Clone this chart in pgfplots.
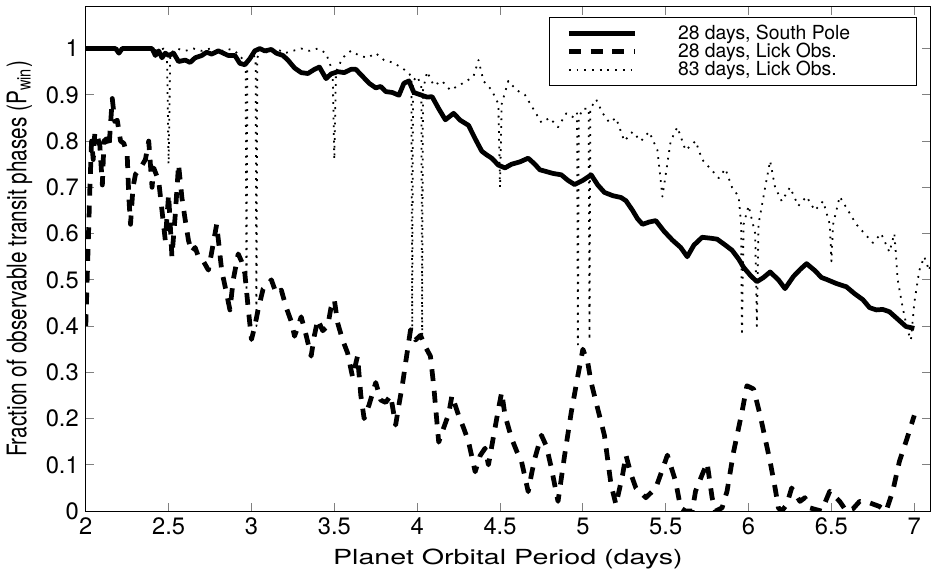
\documentclass[border=0pt]{standalone}
\usepackage{fontspec}
\setmainfont{TeX Gyre Heros}
\usepackage{graphicx}
\usepackage{pgfplots}
\pgfplotsset{compat=1.18}

\begin{document}
\begin{tikzpicture}
\begin{axis}[
    scale only axis,
    width=427pt, height=255pt,
    xmin=2, xmax=7.095, ymin=0, ymax=1.09,
    xtick={2,2.5,3,3.5,4,4.5,5,5.5,6,6.5,7},
    ytick={0,0.1,0.2,0.3,0.4,0.5,0.6,0.7,0.8,0.9,1},
    yticklabels={0,0.1,0.2,0.3,0.4,0.5,0.6,0.7,0.8,0.9,1},
    tick align=inside,
    major tick length=4pt,
    tick style={line width=0.5pt},
    axis line style={line width=0.5pt},
    /pgf/number format/assume math mode=true,
    tick label style={font=\fontsize{12}{12}\selectfont},
    label style={font=\fontsize{10.5}{12}\selectfont},
    xlabel={\scalebox{1.38}[1]{Planet Orbital Period (days)}},
    ylabel={\scalebox{1}[1.3]{Fraction of observable transit phases (P\textsubscript{win})}},
    legend cell align=left,
    legend image code/.code={
        \draw[#1] (0pt,0pt) -- (33.5pt,0pt);
        \path[draw=none,fill=none] (0pt,-1pt) rectangle (55pt,1pt);
    },
    legend style={
        at={(1,1)}, anchor=north east, xshift=-6.5pt, yshift=-5pt,
        font=\fontsize{9.8}{9.8}\selectfont,
        draw=black, line width=0.5pt,
        inner xsep=8.5pt, inner ysep=3.5pt,
        nodes={inner sep=0.2pt},
        row sep=0pt,
    },
    every axis plot/.append style={line join=round},
]

% 28 days, South Pole
\addplot[black, line width=2.4pt] coordinates {
(2.00,1.000) (2.18,1.000) (2.20,0.990) (2.22,1.000) (2.40,1.000) (2.42,0.985)
(2.44,0.995) (2.46,0.980) (2.48,0.990) (2.50,0.985) (2.53,0.990) (2.56,0.972)
(2.60,0.975) (2.63,0.970) (2.66,0.980) (2.70,0.985) (2.73,0.992) (2.76,0.988)
(2.80,0.995) (2.83,0.990) (2.86,0.985) (2.90,0.985) (2.93,0.968) (2.96,0.965)
(2.99,0.978) (3.02,0.995) (3.05,1.000) (3.08,0.995) (3.12,0.998) (3.15,0.990)
(3.19,0.985) (3.22,0.975) (3.26,0.958) (3.30,0.948) (3.34,0.946) (3.38,0.955)
(3.41,0.960) (3.45,0.935) (3.48,0.945) (3.52,0.950) (3.56,0.948) (3.60,0.955)
(3.63,0.955) (3.67,0.940) (3.71,0.925) (3.75,0.915) (3.78,0.918) (3.81,0.907)
(3.85,0.905) (3.89,0.899) (3.92,0.925) (3.95,0.930) (3.98,0.905) (4.02,0.900)
(4.06,0.895) (4.09,0.896) (4.13,0.870) (4.17,0.846) (4.22,0.860) (4.26,0.845)
(4.31,0.834) (4.35,0.805) (4.39,0.778) (4.42,0.770) (4.45,0.763) (4.49,0.748)
(4.53,0.742) (4.57,0.750) (4.62,0.755) (4.67,0.763) (4.71,0.750) (4.74,0.738)
(4.77,0.735) (4.82,0.730) (4.87,0.727) (4.91,0.715) (4.95,0.706) (5.00,0.715)
(5.05,0.727) (5.09,0.705) (5.13,0.689) (5.18,0.682) (5.23,0.678) (5.26,0.671)
(5.30,0.650) (5.33,0.632) (5.36,0.620) (5.40,0.625) (5.44,0.628) (5.49,0.605)
(5.54,0.586) (5.59,0.570) (5.63,0.550) (5.67,0.575) (5.72,0.592) (5.77,0.590)
(5.81,0.588) (5.86,0.575) (5.90,0.564) (5.94,0.545) (5.97,0.527) (6.01,0.510)
(6.05,0.496) (6.09,0.505) (6.13,0.517) (6.18,0.500) (6.22,0.481) (6.27,0.507)
(6.31,0.522) (6.35,0.535) (6.40,0.520) (6.44,0.505) (6.47,0.501) (6.53,0.492)
(6.59,0.485) (6.64,0.470) (6.69,0.457) (6.73,0.440) (6.77,0.435) (6.81,0.436)
(6.85,0.431) (6.90,0.415) (6.95,0.399) (7.00,0.395)
};
\addlegendentry{\makebox[112pt][l]{28 days, South Pole}}

% 28 days, Lick Obs.
\addplot[black, line width=2.4pt, dash pattern=on 6pt off 5pt] coordinates {
(2.000,0.400) (2.005,0.460) (2.015,0.580) (2.025,0.700) (2.035,0.800) (2.045,0.760)
(2.055,0.820) (2.070,0.810) (2.085,0.790) (2.100,0.705) (2.110,0.800) (2.125,0.805)
(2.140,0.785) (2.160,0.892) (2.175,0.842) (2.190,0.845) (2.210,0.800) (2.230,0.795)
(2.250,0.770) (2.260,0.678) (2.270,0.620) (2.285,0.700) (2.300,0.728) (2.330,0.742)
(2.360,0.760) (2.380,0.800) (2.400,0.700) (2.410,0.742) (2.440,0.714) (2.460,0.650)
(2.480,0.585) (2.500,0.685) (2.520,0.550) (2.540,0.640) (2.560,0.750) (2.580,0.678)
(2.600,0.630) (2.620,0.585) (2.640,0.560) (2.660,0.570) (2.680,0.550) (2.710,0.540)
(2.740,0.521) (2.760,0.560) (2.790,0.620) (2.820,0.521) (2.850,0.470) (2.870,0.435)
(2.890,0.500) (2.920,0.556) (2.940,0.540) (2.960,0.514) (2.980,0.440) (3.000,0.371)
(3.020,0.400) (3.040,0.435) (3.070,0.480) (3.100,0.490) (3.120,0.500) (3.150,0.470)
(3.180,0.478) (3.210,0.440) (3.240,0.410) (3.260,0.378) (3.300,0.420) (3.330,0.380)
(3.360,0.335) (3.380,0.380) (3.400,0.414) (3.430,0.390) (3.460,0.400) (3.480,0.440)
(3.500,0.457) (3.520,0.407) (3.550,0.370) (3.580,0.342) (3.610,0.290) (3.640,0.335)
(3.660,0.250) (3.680,0.200) (3.710,0.230) (3.750,0.278) (3.780,0.240) (3.810,0.235)
(3.840,0.250) (3.870,0.186) (3.890,0.230) (3.910,0.271) (3.930,0.320) (3.960,0.392)
(3.990,0.370) (4.020,0.380) (4.050,0.355) (4.080,0.335) (4.100,0.270) (4.130,0.149)
(4.160,0.180) (4.190,0.210) (4.210,0.250) (4.250,0.207) (4.280,0.180) (4.310,0.150)
(4.350,0.085) (4.380,0.120) (4.410,0.136) (4.430,0.100) (4.460,0.160) (4.490,0.220)
(4.510,0.257) (4.530,0.207) (4.570,0.157) (4.600,0.130) (4.630,0.107) (4.670,0.042)
(4.690,0.080) (4.710,0.114) (4.750,0.164) (4.780,0.140) (4.810,0.093) (4.850,0.021)
(4.890,0.121) (4.930,0.214) (4.970,0.293) (5.000,0.350) (5.030,0.320) (5.050,0.278)
(5.080,0.235) (5.130,0.164) (5.170,0.057) (5.200,0.014) (5.240,0.079) (5.260,0.121)
(5.290,0.080) (5.320,0.050) (5.380,0.029) (5.440,0.050) (5.480,0.090) (5.510,0.121)
(5.560,0.064) (5.590,0.007) (5.620,0.000) (5.660,0.000) (5.680,0.043) (5.720,0.079)
(5.750,0.104) (5.780,0.029) (5.800,0.000) (5.840,0.007) (5.870,0.043) (5.910,0.129)
(5.960,0.214) (5.990,0.271) (6.030,0.264) (6.070,0.207) (6.100,0.157) (6.130,0.107)
(6.160,0.050) (6.180,0.007) (6.200,0.000) (6.230,0.014) (6.260,0.050) (6.310,0.021)
(6.340,0.029) (6.370,0.007) (6.440,0.000) (6.490,0.043) (6.550,0.021) (6.590,0.000)
(6.630,0.005) (6.670,0.021) (6.730,0.018) (6.790,0.010) (6.830,0.000) (6.870,0.043)
(6.910,0.107) (6.950,0.150) (7.000,0.207)
};
\addlegendentry{\makebox[112pt][l]{28 days, Lick Obs.}}

% 83 days, Lick Obs.
\addplot[black, line width=0.9pt, dash pattern=on 0.9pt off 3pt] coordinates {
(2.00,1.000) (2.40,1.000) (2.43,0.995) (2.47,1.000) (2.49,0.990) (2.50,0.750)
(2.51,0.990) (2.55,1.000) (2.60,0.995) (2.65,1.000) (2.70,0.995) (2.75,1.000)
(2.80,0.990) (2.85,1.000) (2.90,0.995) (2.94,0.980) (2.965,0.970) (2.97,0.450)
(2.975,0.970) (3.00,0.990) (3.025,0.980) (3.03,0.400) (3.035,0.980) (3.06,1.000)
(3.10,0.990) (3.15,1.000) (3.20,0.990) (3.25,0.995) (3.30,1.000) (3.35,0.995)
(3.40,1.000) (3.45,0.990) (3.49,0.950) (3.50,0.760) (3.51,0.950) (3.55,0.980)
(3.60,0.995) (3.65,0.985) (3.70,0.980) (3.75,0.990) (3.80,0.975) (3.85,0.970)
(3.90,0.960) (3.94,0.950) (3.965,0.940) (3.97,0.390) (3.975,0.930) (4.00,0.940)
(4.025,0.920) (4.03,0.380) (4.035,0.910) (4.06,0.950) (4.10,0.920) (4.15,0.930)
(4.20,0.910) (4.25,0.920) (4.30,0.930) (4.34,0.940) (4.37,0.975) (4.40,0.930)
(4.45,0.910) (4.49,0.880) (4.50,0.700) (4.51,0.880) (4.55,0.930) (4.60,0.910)
(4.65,0.900) (4.70,0.870) (4.75,0.840) (4.80,0.850) (4.85,0.830) (4.90,0.860)
(4.95,0.850) (4.965,0.860) (4.97,0.360) (4.975,0.850) (5.00,0.870) (5.035,0.870)
(5.04,0.370) (5.045,0.870) (5.08,0.890) (5.12,0.860) (5.16,0.840) (5.20,0.850)
(5.25,0.800) (5.30,0.820) (5.35,0.800) (5.40,0.820) (5.45,0.780) (5.48,0.680)
(5.53,0.800) (5.57,0.830) (5.62,0.780) (5.68,0.800) (5.72,0.760) (5.77,0.740)
(5.82,0.720) (5.86,0.740) (5.90,0.700) (5.94,0.680) (5.955,0.620) (5.96,0.380)
(5.97,0.620) (6.00,0.660) (6.04,0.600) (6.05,0.400) (6.06,0.620) (6.10,0.700)
(6.13,0.757) (6.16,0.700) (6.20,0.670) (6.25,0.700) (6.30,0.660) (6.35,0.680)
(6.40,0.650) (6.45,0.670) (6.49,0.620) (6.50,0.540) (6.51,0.620) (6.55,0.680)
(6.60,0.650) (6.65,0.620) (6.70,0.600) (6.75,0.580) (6.80,0.600) (6.85,0.560)
(6.88,0.600) (6.90,0.500) (6.93,0.440) (6.96,0.390) (6.98,0.370) (7.00,0.450)
(7.03,0.520) (7.06,0.550) (7.09,0.520) (7.095,0.530)
};
\addlegendentry{\makebox[112pt][l]{83 days, Lick Obs.}}
\end{axis}
\path ([xshift=-38pt,yshift=-30.5pt]current axis.south west) rectangle ([xshift=1pt,yshift=3.5pt]current axis.north east);
\end{tikzpicture}
\end{document}
